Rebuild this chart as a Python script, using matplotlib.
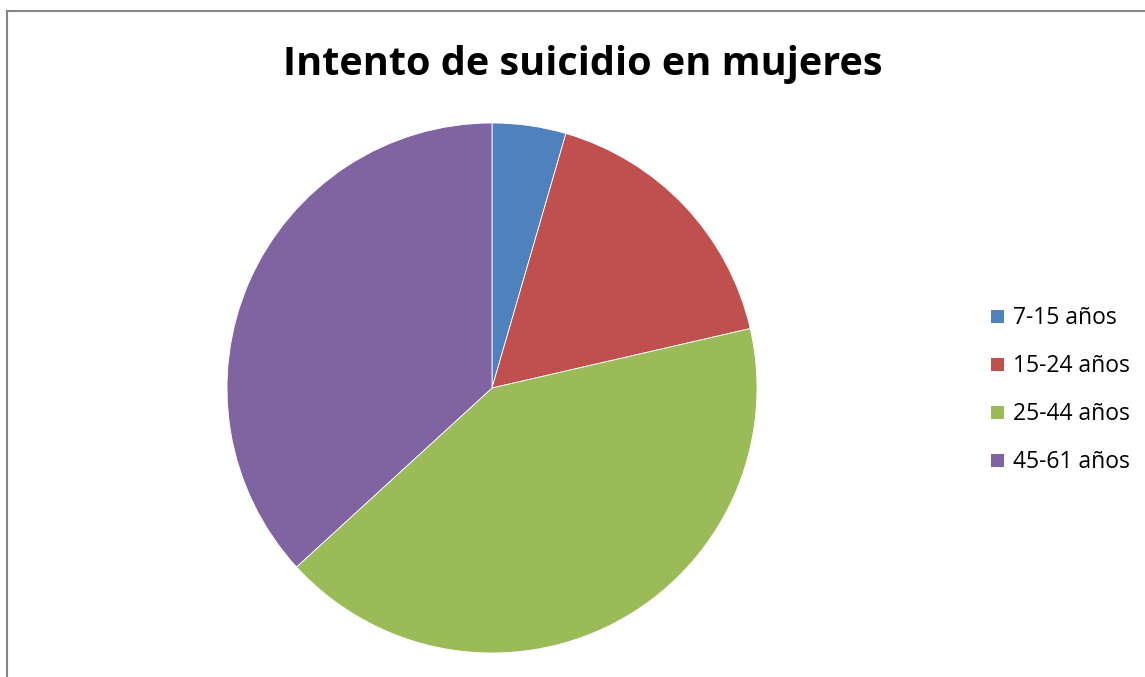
import matplotlib
matplotlib.use("Agg")
import matplotlib.pyplot as plt
from matplotlib.patches import Rectangle

title = "Intento de suicidio en mujeres"
categories = ["7-15 años", "15-24 años", "25-44 años", "45-61 años"]
values = [4.5, 16.9, 41.8, 36.8]
colors = ["#4F81BD", "#C0504D", "#9BBB59", "#8064A2"]

W, H = 1145, 677
fig = plt.figure(figsize=(W / 100, H / 100), dpi=100)
fig.patch.set_facecolor("white")

# chart border (left and top visible)
fig.add_artist(Rectangle((7 / W, -0.05), 1.1, 1 - 11 / H + 0.05, transform=fig.transFigure,
                         fill=False, edgecolor="#868686", linewidth=1.5))

ax = fig.add_axes([227 / W, 1 - 653 / H, 530 / W, 530 / H])
ax.pie(values, colors=colors, startangle=90, counterclock=False,
       wedgeprops=dict(edgecolor="white", linewidth=0.6))
ax.set_xlim(-1, 1)
ax.set_ylim(-1, 1)
ax.set_aspect("equal")

fig.text(583 / W, 1 - 65 / H, title, ha="center", va="center",
         fontsize=28.5, fontweight="bold", family="Open Sans")

ys = [316, 364, 412, 460]
for lab, col, y in zip(categories, colors, ys):
    fig.add_artist(Rectangle((991 / W, 1 - (y + 6.5) / H), 13 / W, 13 / H,
                             transform=fig.transFigure, facecolor=col, edgecolor="none"))
    fig.text(1013 / W, 1 - (y + 1.5) / H, lab, ha="left", va="center", fontsize=16.5, family="Open Sans")

fig.savefig("out.png", dpi=100)
